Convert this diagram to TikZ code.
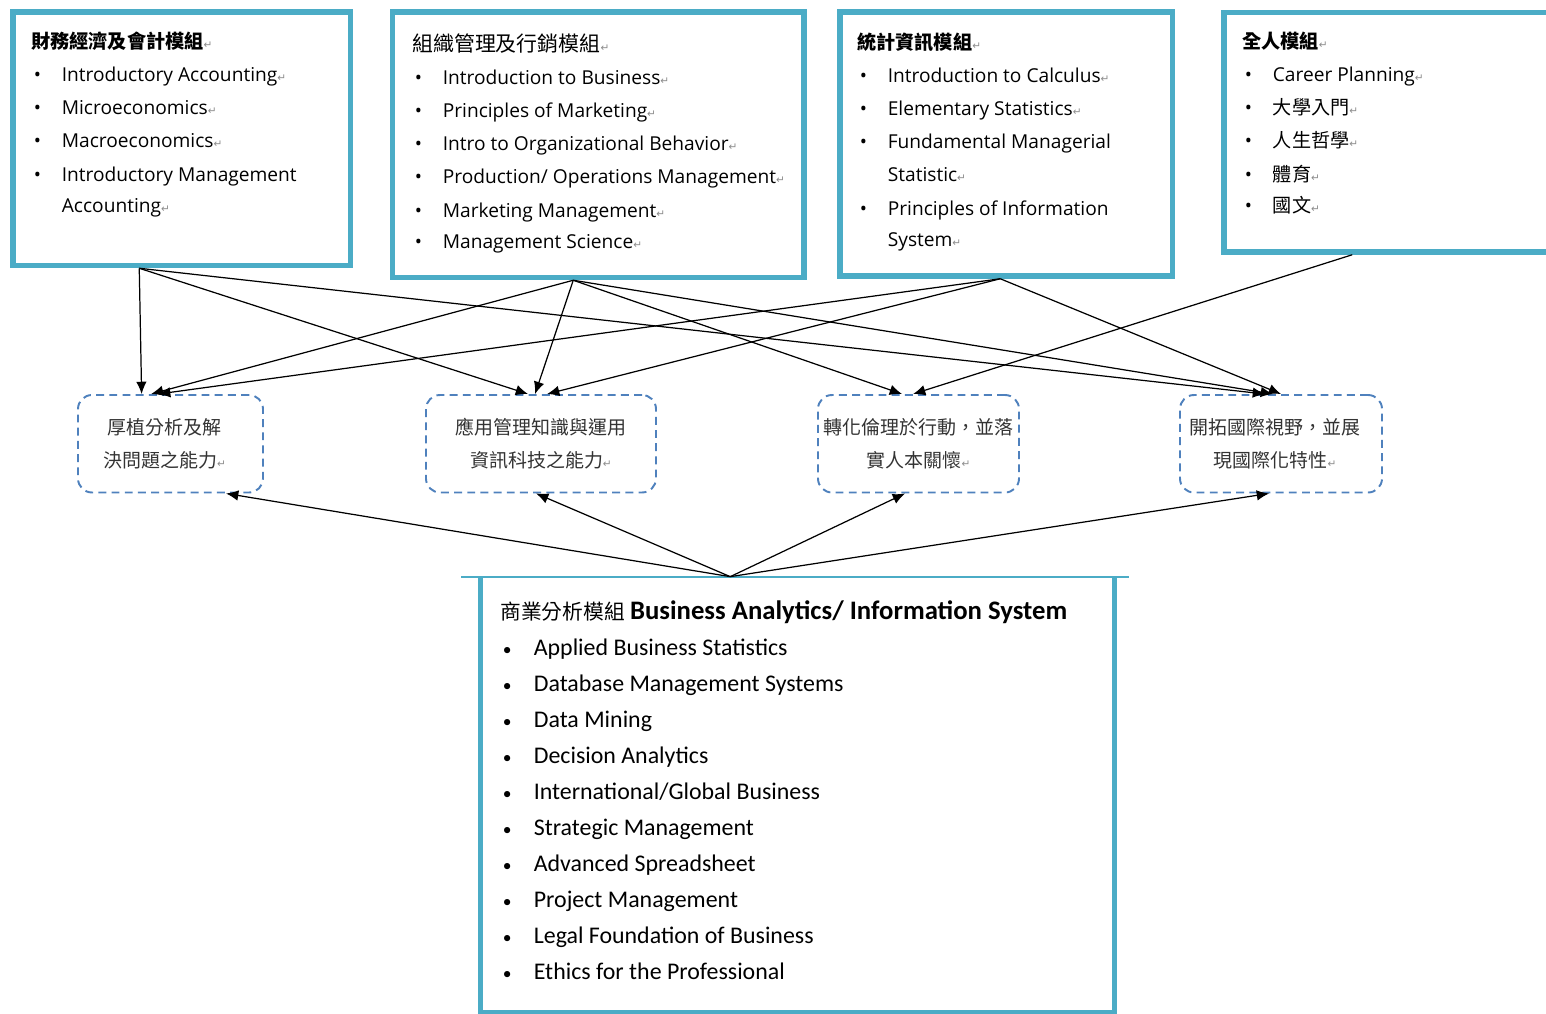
\documentclass[tikz,border=0pt]{standalone}
\usepackage{fontspec}
\setmainfont{Open Sans}
\newfontfamily\cjk{Noto Sans CJK TC}
\newfontfamily\calib{Carlito}
\newfontfamily\symb{DejaVu Sans}
\usetikzlibrary{arrows.meta,fit,calc}

\definecolor{modteal}{RGB}{75,172,198}
\definecolor{goalblue}{RGB}{79,129,189}
% paragraph marks, bullet items
\newcommand{\ret}{{\symb\fontsize{6}{6}\selectfont\textcolor{black!45}{↵}}}
\newcommand{\itm}[1]{\hspace*{0.05cm}\makebox[0.56cm][l]{\textbullet}#1}
\newcommand{\itmb}[1]{\hspace*{0.05cm}\makebox[0.62cm][l]{\fontsize{10}{10}\selectfont\textbullet}#1}
\newcommand{\cont}[1]{\hspace*{0.61cm}#1}

\begin{document}
\begin{tikzpicture}[x=0.02cm, y=-0.02cm,
  modbox/.style={draw=modteal, line width=0.11cm, inner sep=0pt},
  listtext/.style={anchor=base west, align=left, inner sep=0pt,
    font=\fontsize{10.9}{18.9}\selectfont},
  goalbox/.style={draw=goalblue, line width=1.1pt, dash pattern=on 4.5pt off 3pt,
    rounded corners=0.28cm, inner sep=0pt},
  goaltext/.style={align=center, inner sep=0pt, text=black!80,
    font=\cjk\fontsize{10.8}{18.9}\selectfont},
  link/.style={-{Latex[length=7pt,width=6pt]}, line width=0.7pt}]
  \clip (0,0) rectangle (1546,1014);

  % module boxes
  \node[modbox, fit={(13,12) (350.5,265.5)}] (fin) {};
  \node[modbox, fit={(392.5,12) (804,277.5)}] (org) {};
  \node[modbox, fit={(840,12) (1172.5,276)}] (stat) {};
  \node[modbox, fit={(1224,12.5) (1580,252)}] (whole) {};

  % (anchored at the baseline of the last line)
  \node[listtext] (finT) at (31,212) {{\cjk\bfseries 財務經濟及會計模組}\ret\\
    \itm{Introductory Accounting\ret}\\
    \itm{Microeconomics\ret}\\
    \itm{Macroeconomics\ret}\\
    \itm{Introductory Management}\\[-1.3pt]
    \cont{Accounting\ret}};
  \node[listtext] (orgT) at (412,248) {{\cjk\fontsize{11.9}{14}\selectfont 組織管理及行銷模組}\ret\\
    \itm{Introduction to Business\ret}\\
    \itm{Principles of Marketing\ret}\\
    \itm{Intro to Organizational Behavior\ret}\\
    \itm{Production/ Operations Management\ret}\\
    \itm{Marketing Management\ret}\\[-1.3pt]
    \itm{Management Science\ret}};
  \node[listtext] (statT) at (857,246) {{\cjk\bfseries 統計資訊模組}\ret\\
    \itm{Introduction to Calculus\ret}\\
    \itm{Elementary Statistics\ret}\\
    \itm{Fundamental Managerial}\\
    \cont{Statistic\ret}\\
    \itm{Principles of Information}\\[-1.3pt]
    \cont{System\ret}};
  \node[listtext] (wholeT) at (1242,212) {{\cjk\bfseries 全人模組}\ret\\
    \itm{Career Planning\ret}\\
    \itm{{\cjk 大學入門}\ret}\\
    \itm{{\cjk 人生哲學}\ret}\\
    \itm{{\cjk 體育}\ret}\\[-1.3pt]
    \itm{{\cjk 國文}\ret}};

  % goal boxes
  \node[goalbox, fit={(78,395) (263,492.5)}] (goalA) {};
  \node[goalbox, fit={(426,395) (656,492.5)}] (goalB) {};
  \node[goalbox, fit={(818,395) (1019,492.5)}] (goalC) {};
  \node[goalbox, fit={(1180,395) (1382,492.5)}] (goalD) {};
  \node[goaltext] (goalAT) at ($(goalA.center)+(-6,0)$) {厚植分析及解\\決問題之能力\ret};
  \node[goaltext] (goalBT) at ($(goalB.center)+(0,0)$) {應用管理知識與運用\\資訊科技之能力\ret};
  \node[goaltext] (goalCT) at ($(goalC.center)+(0,0)$) {轉化倫理於行動，並落\\實人本關懷\ret};
  \node[goaltext] (goalDT) at ($(goalD.center)+(-6,0)$) {開拓國際視野，並展\\現國際化特性\ret};

  % business analytics box
  \node[fit={(480.6,577) (1114,1012)}, inner sep=0pt] (ba) {};
  \draw[modteal, line width=0.11cm] (ba.north west) -- (ba.south west)
    -- (ba.south east) -- (ba.north east);
  \draw[modteal, line width=0.04cm] ($(ba.north west)+(-19,0)$) -- ($(ba.north east)+(14.6,0)$);
  \node[anchor=base west, align=left, inner sep=0pt, font=\calib\fontsize{13.6}{20.5}\selectfont]
    (baT) at (500,979.4) {{\cjk\fontsize{11.8}{14}\selectfont 商業分析模組} {\bfseries\fontsize{15.2}{18}\selectfont Business Analytics/ Information System}\\
    \itmb{Applied Business Statistics}\\
    \itmb{Database Management Systems}\\
    \itmb{Data Mining}\\
    \itmb{Decision Analytics}\\
    \itmb{International/Global Business}\\
    \itmb{Strategic Management}\\
    \itmb{Advanced Spreadsheet}\\
    \itmb{Project Management}\\
    \itmb{Legal Foundation of Business}\\
    \itmb{Ethics for the Professional}};

  % connector ends
  \coordinate (finOut) at ($(fin.south west)+(129,0)$);
  \coordinate (orgOut) at ($(org.south west)+(183.5,0)$);
  \coordinate (statOut) at ($(stat.south west)+(163,0)$);
  \coordinate (wholeOut) at ($(whole.south west)+(131,0)$);
  \coordinate (baOut) at ($(ba.north west)+(250,0)$);

  % modules to goals
  \draw[link] (finOut) -- ($(goalA.north west)+(64.6,0)$);
  \draw[link] (finOut) -- ($(goalB.north west)+(103,0)$);
  \draw[link] (finOut) -- ($(goalD.north west)+(86,0)$);
  \draw[link] (orgOut) -- ($(goalA.north west)+(74,0)$);
  \draw[link] (orgOut) -- ($(goalB.north west)+(110,0)$);
  \draw[link] (orgOut) -- ($(goalC.north west)+(85,0)$);
  \draw[link] (orgOut) -- ($(goalD.north west)+(94,0)$);
  \draw[link] (statOut) -- ($(goalA.north west)+(81,0)$);
  \draw[link] (statOut) -- ($(goalB.north west)+(122,0)$);
  \draw[link] (statOut) -- ($(goalD.north west)+(102,0)$);
  \draw[link] (wholeOut) -- ($(goalC.north west)+(96,0)$);

  % business analytics to goals
  \draw[link] (baOut) -- ($(goalA.south west)+(149,0)$);
  \draw[link] (baOut) -- ($(goalB.south west)+(111,0)$);
  \draw[link] (baOut) -- ($(goalC.south west)+(88,0)$);
  \draw[link] (baOut) -- ($(goalD.south west)+(90,0)$);
\end{tikzpicture}
\end{document}
